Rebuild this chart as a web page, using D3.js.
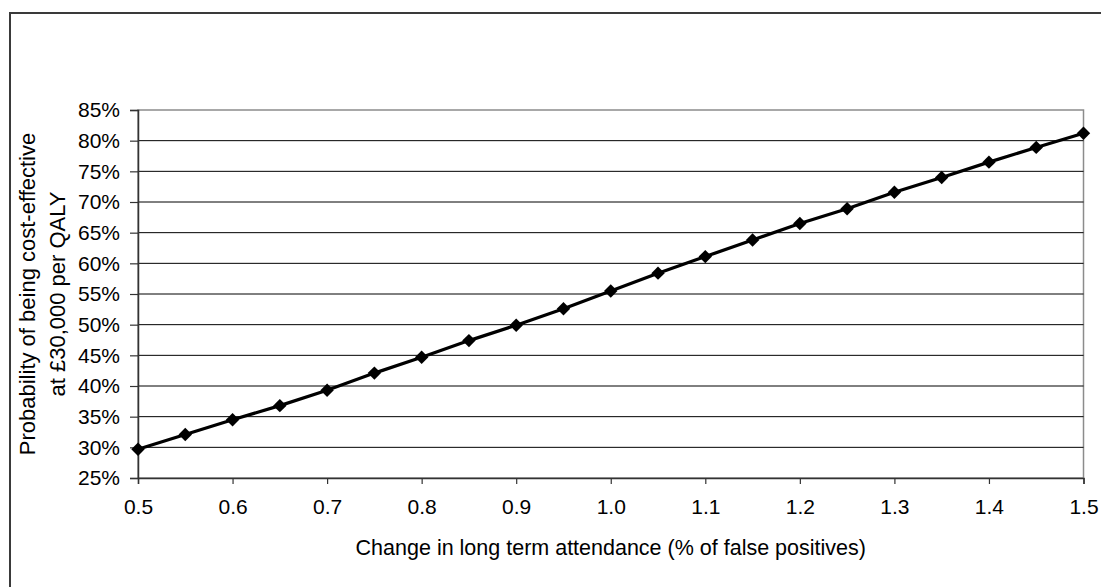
<!DOCTYPE html>
<html>
<head>
<meta charset="utf-8">
<script src="https://cdn.jsdelivr.net/npm/d3@7"></script>
<style>
  body { margin: 0; background: #fff; }
  svg text { font-family: "Liberation Sans", Arial, sans-serif; fill: #000; }
</style>
</head>
<body>
<div id="chart"></div>
<script>
// change in long term attendance (% of false positives)
var attendance = [0.5, 0.55, 0.6, 0.65, 0.7, 0.75, 0.8, 0.85, 0.9, 0.95, 1.0,
                  1.05, 1.1, 1.15, 1.2, 1.25, 1.3, 1.35, 1.4, 1.45, 1.5];
// probability of being cost-effective at £30,000 per QALY (%)
var probability = [29.7, 32.1, 34.5, 36.8, 39.3, 42.1, 44.7, 47.4, 49.9, 52.6, 55.5,
                   58.4, 61.1, 63.8, 66.5, 68.9, 71.6, 74.0, 76.5, 78.9, 81.2];
var xTicks = [0.5, 0.6, 0.7, 0.8, 0.9, 1.0, 1.1, 1.2, 1.3, 1.4, 1.5];
var yTicks = [25, 30, 35, 40, 45, 50, 55, 60, 65, 70, 75, 80, 85];
var xTitle = 'Change in long term attendance (% of false positives)';
var yTitle = ['Probability of being cost-effective', 'at \u00a330,000 per QALY'];

var W = 1101, H = 587;
var margin = { top: 110, right: 17.5, bottom: 109, left: 138 };
var width = W - margin.left - margin.right,
    height = H - margin.top - margin.bottom;

var svg = d3.select('#chart').append('svg')
  .attr('width', W).attr('height', H);

// outer chart frame (runs off the right and bottom edges)
svg.append('rect')
  .attr('x', 10).attr('y', 13)
  .attr('width', W + 20).attr('height', H + 20)
  .attr('fill', '#fff').attr('stroke', '#3a3a3a').attr('stroke-width', 2);

var xScale = d3.scaleLinear().domain([0.5, 1.5]).range([0, width]);
var yScale = d3.scaleLinear().domain([25, 85]).range([height, 0]);

var g = svg.append('g')
  .attr('transform', 'translate(' + margin.left + ',' + margin.top + ')');

// plot area border (grey top/right)
g.append('rect')
  .attr('width', width).attr('height', height)
  .attr('fill', 'none').attr('stroke', '#8c8c8c').attr('stroke-width', 1.5);

// horizontal gridlines
g.append('g').selectAll('line')
  .data(yTicks.filter(function (d) { return d > 25 && d < 85; }))
  .enter().append('line')
  .attr('x1', 0).attr('x2', width)
  .attr('y1', function (d) { return yScale(d); })
  .attr('y2', function (d) { return yScale(d); })
  .attr('stroke', '#000').attr('stroke-width', 1);

// axes
var yAxis = d3.axisLeft(yScale).tickValues(yTicks)
  .tickFormat(function (d) { return d + '%'; })
  .tickSize(8).tickPadding(10);
var yG = g.append('g').call(yAxis);

var xAxis = d3.axisBottom(xScale).tickValues(xTicks)
  .tickFormat(d3.format('.1f'))
  .tickSize(6).tickPadding(15);
var xG = g.append('g').attr('transform', 'translate(0,' + height + ')').call(xAxis);

[yG, xG].forEach(function (ax) {
  ax.select('.domain').attr('stroke', '#333').attr('stroke-width', 1.5);
  ax.selectAll('.tick line').attr('stroke', '#333').attr('stroke-width', 1.2);
  ax.selectAll('.tick text').style('font-size', '21px')
    .style('font-family', '"Liberation Sans", Arial, sans-serif').attr('fill', '#000');
});
xG.selectAll('.tick text').attr('dy', '0.71em');

// series line
var line = d3.line()
  .x(function (d, i) { return xScale(attendance[i]); })
  .y(function (d) { return yScale(d); });

g.append('path')
  .datum(probability)
  .attr('d', line)
  .attr('fill', 'none').attr('stroke', '#000').attr('stroke-width', 3.2);

// diamond markers
var diamond = d3.symbol().type(d3.symbolSquare).size(90);
g.append('g').selectAll('path')
  .data(probability)
  .enter().append('path')
  .attr('d', diamond)
  .attr('transform', function (d, i) {
    return 'translate(' + xScale(attendance[i]) + ',' + yScale(d) + ') rotate(45)';
  })
  .attr('fill', '#000');

// axis titles
svg.append('text')
  .attr('x', margin.left + width / 2).attr('y', 555)
  .attr('text-anchor', 'middle')
  .style('font-size', '21.5px')
  .text(xTitle);

var yt = svg.append('text')
  .attr('transform', 'translate(35,' + (margin.top + height / 2) + ') rotate(-90)')
  .attr('text-anchor', 'middle')
  .style('font-size', '22px');
yt.append('tspan').attr('x', 0).attr('y', 0).text(yTitle[0]);
yt.append('tspan').attr('x', 0).attr('y', 30).text(yTitle[1]);
</script>
</body>
</html>
